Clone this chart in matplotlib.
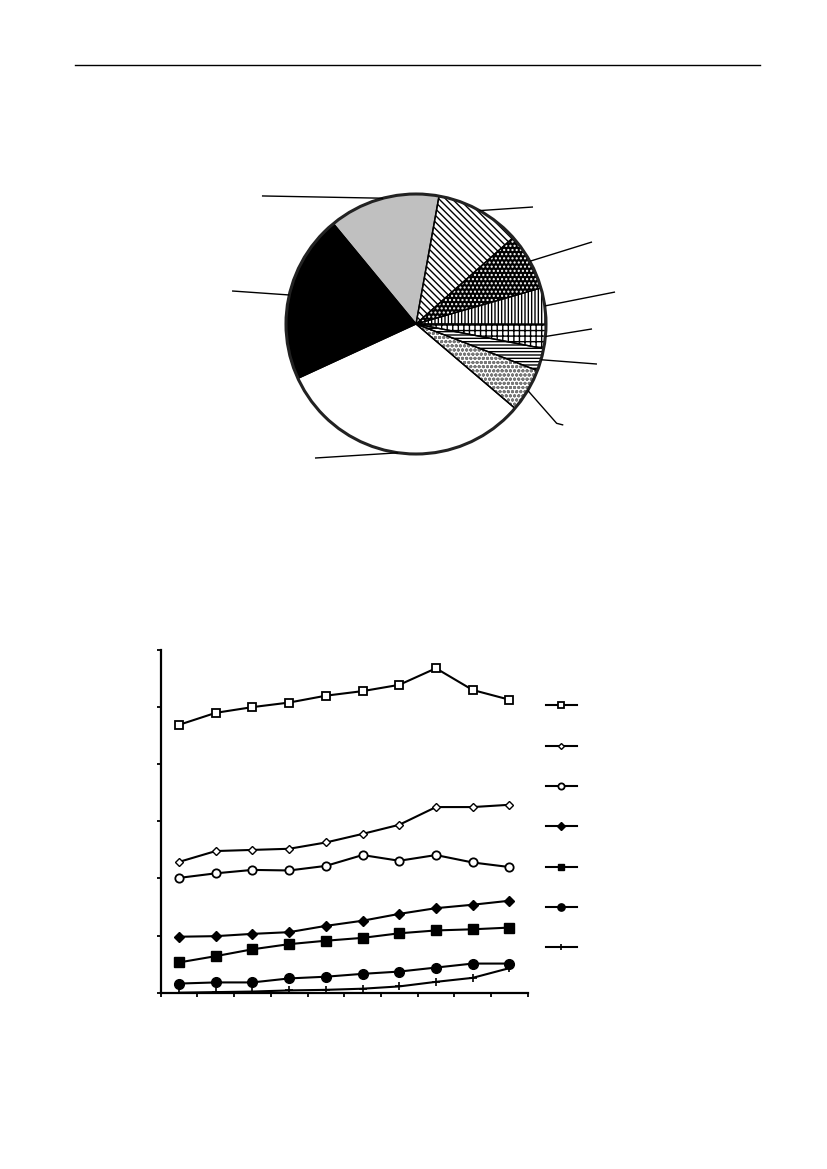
import numpy as np
import matplotlib
matplotlib.use("Agg")
import matplotlib.pyplot as plt
from matplotlib.patches import Wedge, Circle
from matplotlib.lines import Line2D

W, H = 827, 1169

# ---------------- data ----------------
# pie shares (%), counter-clockwise order starting from the top boundary
pie_names = ["gray", "black", "white", "lightdot", "horiz", "plus", "vert", "darkdot", "diag"]
pie_values = [13.8, 20.9, 31.9, 5.4, 2.8, 3.0, 4.5, 7.1, 10.6]
pie_faces = ["#c0c0c0", "black", "white", "white", "white", "white", "white", "black", "white"]
pie_hatches = [None, None, None, "oooo", "-----", "+++", "|||||", "....", "\\\\\\\\\\"]
pie_hatch_colors = [None, None, None, "#777777", "black", "black", "black", "white", "black"]
# leader-line end points (pie radius units)
leader_ends = [
    [(-1.185, 0.985)],
    [(-1.415, 0.254)],
    [(-0.777, -1.031)],
    [(1.082, -0.764), (1.133, -0.777)],
    [(1.392, -0.308)],
    [(1.354, -0.038)],
    [(1.531, 0.246)],
    [(1.354, 0.631)],
    [(0.90, 0.90)],
]
pie_start = 79.8

# line chart
n_cat = 10
series_sq_open = [4.69, 4.90, 5.00, 5.08, 5.20, 5.28, 5.39, 5.68, 5.30, 5.13]
series_dia_open = [2.29, 2.48, 2.50, 2.52, 2.63, 2.78, 2.94, 3.25, 3.25, 3.29]
series_circ_open = [2.01, 2.09, 2.15, 2.14, 2.22, 2.41, 2.31, 2.41, 2.28, 2.20]
series_dia_fill = [0.98, 0.99, 1.03, 1.06, 1.17, 1.26, 1.38, 1.48, 1.54, 1.61]
series_sq_fill = [0.53, 0.64, 0.76, 0.85, 0.91, 0.96, 1.04, 1.09, 1.11, 1.14]
series_circ_fill = [0.16, 0.18, 0.18, 0.25, 0.28, 0.33, 0.37, 0.44, 0.51, 0.51]
series_plus = [0.00, 0.01, 0.02, 0.04, 0.05, 0.07, 0.11, 0.19, 0.26, 0.43]
y_ticks = [0, 1, 2, 3, 4, 5, 6]

# ---------------- figure ----------------
fig = plt.figure(figsize=(W / 100, H / 100), dpi=100)
plt.rcParams['hatch.linewidth'] = 1.0

# header rule
fig.add_artist(Line2D([75 / W, 760 / W], [1 - 65 / H, 1 - 65 / H], color="black", lw=1.0))

# ---------------- pie ----------------
cx, cy, R = 416, 324, 130
half = 220
axp = fig.add_axes([(cx - half) / W, 1 - (cy + half) / H, 2 * half / W, 2 * half / H])

wedges, _ = axp.pie(pie_values, startangle=pie_start, counterclock=True,
                    colors=pie_faces, radius=1.0,
                    wedgeprops=dict(linewidth=0, edgecolor="none"))
s = half / R
axp.set_xlim(-s, s)
axp.set_ylim(-s, s)
axp.axis("off")

for w, h, hc in zip(wedges, pie_hatches, pie_hatch_colors):
    if h is not None:
        w.set_hatch(h)
        w.set_edgecolor(hc)
        w.set_linewidth(0)
    outline = Wedge((0, 0), 1.0, w.theta1, w.theta2, fill=False, edgecolor="black", lw=1.0)
    axp.add_patch(outline)
axp.add_patch(Circle((0, 0), 1.0, fill=False, edgecolor="#222222", lw=2.2))

# leader lines
for w, ends in zip(wedges, leader_ends):
    mid = np.deg2rad((w.theta1 + w.theta2) / 2)
    x0, y0 = np.cos(mid), np.sin(mid)
    xs = [x0] + [e[0] for e in ends]
    ys = [y0] + [e[1] for e in ends]
    axp.plot(xs, ys, color="black", lw=1.0, solid_capstyle="butt")

# ---------------- line chart ----------------
left, right, top, bottom = 160.7, 527.7, 650, 992.7
axl = fig.add_axes([left / W, 1 - bottom / H, (right - left) / W, (bottom - top) / H])
x = np.arange(n_cat)
lw = 1.5
styles = [
    (series_sq_open, dict(marker="s", ms=5.5, mfc="white", mec="black", mew=1.3)),
    (series_dia_open, dict(marker="D", ms=4.0, mfc="white", mec="black", mew=1.0)),
    (series_circ_open, dict(marker="o", ms=6.0, mfc="white", mec="black", mew=1.3)),
    (series_dia_fill, dict(marker="D", ms=5.0, mfc="black", mec="black", mew=1.0)),
    (series_sq_fill, dict(marker="s", ms=6.5, mfc="black", mec="black", mew=1.0)),
    (series_circ_fill, dict(marker="o", ms=7.0, mfc="black", mec="black", mew=1.0)),
    (series_plus, dict(marker="+", ms=6.0, mfc="black", mec="black", mew=1.2)),
]
handles = []
for ys, st in styles:
    ln, = axl.plot(x, ys, color="black", lw=lw, **st)
    handles.append(ln)

axl.set_xlim(-0.5, n_cat - 0.5)
axl.set_ylim(y_ticks[0], y_ticks[-1])
axl.set_yticks(y_ticks)
axl.set_xticks(np.arange(-0.5, n_cat, 1.0))
axl.set_xticklabels([])
axl.set_yticklabels([])
axl.tick_params(axis="both", direction="out", length=3, width=1.3)
for sp in ["top", "right"]:
    axl.spines[sp].set_visible(False)
for sp in ["left", "bottom"]:
    axl.spines[sp].set_linewidth(1.6)
axl.patch.set_alpha(0)

leg = fig.legend(handles, [" "] * len(handles), loc="upper left",
                 bbox_to_anchor=(546 / W, 1 - 699 / H), frameon=False,
                 borderpad=0, borderaxespad=0, handletextpad=0.5,
                 handlelength=2.2, labelspacing=1.9, fontsize=10, markerscale=0.75)

fig.savefig("out.png", dpi=100)
